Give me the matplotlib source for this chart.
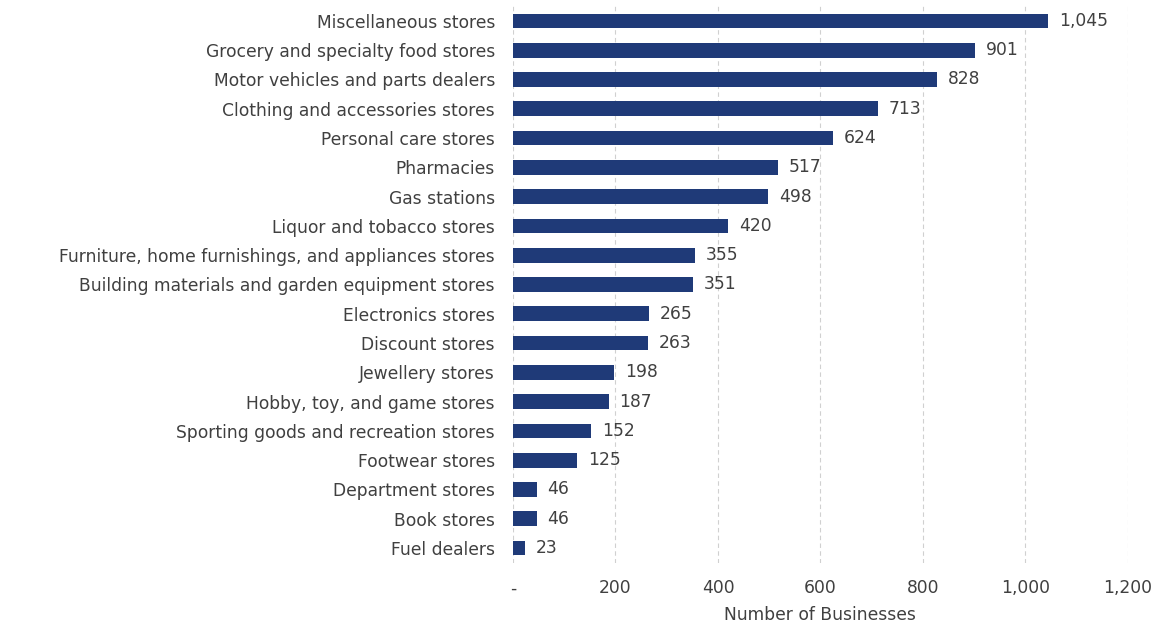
import matplotlib.pyplot as plt
from matplotlib.ticker import FuncFormatter

plt.rcParams['font.family'] = ['DejaVu Sans']

categories = [
    "Miscellaneous stores",
    "Grocery and specialty food stores",
    "Motor vehicles and parts dealers",
    "Clothing and accessories stores",
    "Personal care stores",
    "Pharmacies",
    "Gas stations",
    "Liquor and tobacco stores",
    "Furniture, home furnishings, and appliances stores",
    "Building materials and garden equipment stores",
    "Electronics stores",
    "Discount stores",
    "Jewellery stores",
    "Hobby, toy, and game stores",
    "Sporting goods and recreation stores",
    "Footwear stores",
    "Department stores",
    "Book stores",
    "Fuel dealers",
]
businesses = [1045, 901, 828, 713, 624, 517, 498, 420, 355, 351,
              265, 263, 198, 187, 152, 125, 46, 46, 23]
x_ticks = [0, 200, 400, 600, 800, 1000, 1200]

bar_color = "#1f3a78"
text_color = "#404040"
fs = 12.3

fig = plt.figure(figsize=(11.57, 6.28), dpi=100)
ax = fig.add_axes([0.4434, 0.104, 0.5314, 0.886])

y = list(range(len(categories)))
ax.barh(y, businesses, height=0.5, color=bar_color, zorder=3)
ax.set_yticks(y)
ax.set_yticklabels(categories, fontsize=fs, color=text_color)
ax.set_ylim(len(categories) - 0.5, -0.5)

# value labels just past each bar end
for yi, v in zip(y, businesses):
    ax.text(v + 21, yi, f"{v:,}", va="center", ha="left",
            fontsize=fs, color=text_color)

ax.set_xlim(0, 1200)
ax.set_xticks(x_ticks)
ax.xaxis.set_major_formatter(FuncFormatter(lambda v, p: "-" if v == 0 else f"{int(v):,}"))
ax.tick_params(axis="x", length=0, pad=12, labelsize=fs, labelcolor=text_color)
ax.tick_params(axis="y", length=0, pad=13)
ax.set_xlabel("Number of Businesses", fontsize=fs, color=text_color, labelpad=6)

ax.grid(axis="x", color="#d0d0d0", linestyle=(0, (4, 3)), linewidth=0.8, zorder=0)
for s in ax.spines.values():
    s.set_visible(False)

fig.savefig("out.png", dpi=100)
plt.close(fig)
